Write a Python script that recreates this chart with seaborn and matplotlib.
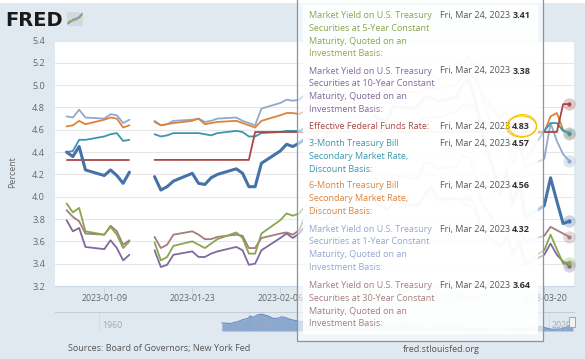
import numpy as np
import pandas as pd
import matplotlib
matplotlib.use("Agg")
import matplotlib.pyplot as plt
import seaborn as sns
from matplotlib.patches import Rectangle, Ellipse

# ---------------- data ----------------
dates = pd.bdate_range("2023-01-03", "2023-03-24")   # business days; holidays are None
N = None
dgs2 = [4.40, 4.36, 4.45, 4.24,
        4.19, 4.24, 4.19, 4.12, 4.22,
        N, 4.18, 4.06, 4.09, 4.14,
        4.21, 4.12, 4.11, 4.17, 4.20,
        4.25, 4.21, 4.09, 4.09, 4.30,
        4.41, 4.47, 4.45, 4.48, 4.52,
        4.52, 4.62, 4.64, 4.65, 4.62,
        N, 4.72, 4.69, 4.69, 4.81,
        4.79, 4.81, 4.89, 4.89, 4.86,
        4.89, 5.01, 5.05, 4.87, 4.60,
        4.03, 4.24, 3.93, 4.14, 3.81,
        3.92, 4.17, 3.96, 3.76, 3.78]
dgs1 = [4.72, 4.71, 4.78, 4.71,
        4.70, 4.74, 4.73, 4.66, 4.69,
        N, 4.68, 4.64, 4.65, 4.68,
        4.69, 4.70, 4.67, 4.68, 4.70,
        4.71, 4.68, 4.66, 4.64, 4.79,
        4.84, 4.87, 4.86, 4.87, 4.92,
        4.95, 5.03, 5.05, 5.02, 5.00,
        N, 5.04, 5.02, 5.00, 5.08,
        5.07, 5.06, 5.11, 5.10, 5.05,
        5.10, 5.21, 5.25, 5.15, 4.90,
        4.42, 4.51, 4.29, 4.49, 4.26,
        4.34, 4.66, 4.50, 4.38, 4.32]
dtb6 = [4.63, 4.64, 4.68, 4.65,
        4.69, 4.71, 4.70, 4.62, 4.64,
        N, 4.67, 4.64, 4.65, 4.66,
        4.68, 4.70, 4.65, 4.66, 4.67,
        4.68, 4.66, 4.64, 4.62, 4.68,
        4.73, 4.75, 4.75, 4.74, 4.77,
        4.80, 4.83, 4.84, 4.84, 4.85,
        N, 4.90, 4.90, 4.90, 4.93,
        4.94, 4.93, 4.97, 4.98, 4.97,
        5.00, 5.09, 5.10, 5.06, 4.94,
        4.70, 4.77, 4.54, 4.67, 4.55,
        4.58, 4.72, 4.75, 4.60, 4.56]
dtb3 = [4.40, 4.41, 4.51, 4.51,
        4.54, 4.56, 4.57, 4.50, 4.51,
        N, 4.56, 4.54, 4.55, 4.57,
        4.57, 4.57, 4.56, 4.55, 4.57,
        4.59, 4.58, 4.54, 4.54, 4.57,
        4.58, 4.59, 4.59, 4.59, 4.62,
        4.62, 4.63, 4.65, 4.65, 4.65,
        N, 4.68, 4.67, 4.66, 4.67,
        4.67, 4.67, 4.71, 4.71, 4.71,
        4.76, 4.82, 4.83, 4.81, 4.69,
        4.57, 4.53, 4.45, 4.42, 4.33,
        4.59, 4.66, 4.66, 4.59, 4.57]
effr = [4.33, 4.33, 4.33, 4.33,
        4.33, 4.33, 4.33, 4.33, 4.33,
        N, 4.33, 4.33, 4.33, 4.33,
        4.33, 4.33, 4.33, 4.33, 4.33,
        4.33, 4.33, 4.33, 4.58, 4.58,
        4.58, 4.58, 4.58, 4.58, 4.58,
        4.58, 4.58, 4.58, 4.58, 4.58,
        N, 4.58, 4.58, 4.58, 4.58,
        4.58, 4.58, 4.58, 4.58, 4.58,
        4.58, 4.58, 4.58, 4.58, 4.58,
        4.58, 4.58, 4.58, 4.58, 4.58,
        4.58, 4.58, 4.58, 4.83, 4.83]
dgs5 = [3.94, 3.86, 3.90, 3.69,
        3.66, 3.73, 3.66, 3.54, 3.60,
        N, 3.59, 3.43, 3.46, 3.56,
        3.60, 3.57, 3.54, 3.58, 3.62,
        3.68, 3.63, 3.49, 3.49, 3.67,
        3.79, 3.85, 3.83, 3.85, 3.92,
        3.91, 3.97, 4.05, 4.06, 4.04,
        N, 4.17, 4.12, 4.05, 4.20,
        4.16, 4.18, 4.30, 4.30, 4.25,
        4.27, 4.37, 4.35, 4.21, 3.96,
        3.68, 3.71, 3.46, 3.62, 3.42,
        3.52, 3.66, 3.53, 3.40, 3.41]
dgs10 = [3.79, 3.69, 3.72, 3.55,
         3.53, 3.61, 3.54, 3.43, 3.48,
         N, 3.52, 3.37, 3.39, 3.48,
         3.51, 3.46, 3.46, 3.49, 3.51,
         3.55, 3.52, 3.39, 3.40, 3.52,
         3.63, 3.67, 3.63, 3.67, 3.74,
         3.72, 3.77, 3.81, 3.86, 3.82,
         N, 3.95, 3.92, 3.88, 3.95,
         3.92, 3.92, 4.01, 4.08, 3.97,
         3.98, 3.97, 3.99, 3.93, 3.70,
         3.55, 3.64, 3.51, 3.57, 3.39,
         3.48, 3.58, 3.48, 3.42, 3.38]
dgs30 = [3.88, 3.82, 3.78, 3.67,
         3.66, 3.74, 3.69, 3.57, 3.61,
         N, 3.64, 3.54, 3.57, 3.66,
         3.69, 3.66, 3.62, 3.62, 3.64,
         3.66, 3.65, 3.54, 3.54, 3.63,
         3.67, 3.68, 3.66, 3.70, 3.83,
         3.79, 3.83, 3.87, 3.92, 3.88,
         N, 3.98, 3.95, 3.89, 3.94,
         3.92, 3.93, 4.02, 4.09, 3.99,
         3.99, 3.94, 3.92, 3.88, 3.70,
         3.69, 3.73, 3.70, 3.72, 3.60,
         3.65, 3.73, 3.70, 3.67, 3.64]

# navigator (2-year yield history)
nav_years = [1976.4, 1977.5, 1978.4, 1979.3, 1979.9, 1980.2, 1980.6, 1981.1, 1981.7,
             1982.1, 1982.6, 1983.2, 1983.9, 1984.3, 1984.8, 1985.5, 1986.4, 1987.5,
             1988.5, 1989.3, 1990.5, 1991.5, 1992.5, 1993.5, 1994.9, 1995.5, 1996.5,
             1997.5, 1998.8, 1999.5, 2000.4, 2001.5, 2002.5, 2003.5, 2004.5, 2005.5,
             2006.5, 2007.5, 2008.5, 2009.5, 2010.5, 2011.5, 2012.5, 2013.5, 2014.5,
             2015.5, 2016.5, 2017.5, 2018.9, 2019.5, 2020.3, 2021.0, 2021.9, 2022.5,
             2022.9, 2023.22]
nav_vals = [6.8, 6.1, 7.8, 10.4, 11.5, 13.9, 12.5, 14.9, 16.0,
            14.9, 13.9, 11.5, 11.5, 13.1, 12.5, 10.4, 8.9, 7.5,
            8.1, 9.3, 8.2, 6.5, 5.0, 4.2, 7.6, 5.9, 5.5,
            6.0, 4.3, 5.7, 6.8, 4.5, 3.0, 1.3, 1.8, 3.8,
            5.2, 4.8, 2.0, 0.9, 0.8, 0.5, 0.27, 0.3, 0.46,
            0.7, 0.85, 1.4, 2.9, 1.8, 0.2, 0.15, 0.7, 3.0,
            4.6, 4.0]

logo_x = [0, 1, 2, 3, 4, 5]
logo_green = [0.25, 0.40, 0.35, 0.60, 0.55, 0.80]
logo_blue = [0.15, 0.30, 0.50, 0.45, 0.68, 0.88]

yticks = [3.2, 3.4, 3.6, 3.8, 4.0, 4.2, 4.4, 4.6, 4.8, 5.0, 5.2, 5.4]
xtick_dates = ["2023-01-09", "2023-01-23", "2023-02-06", "2023-02-20", "2023-03-06", "2023-03-20"]
# the 2023-02-20 label sits fully under the tooltip in the reference
xtick_labels = ["2023-01-09", "2023-01-23", "2023-02-06", "", "2023-03-06", "2023-03-20"]
nav_ticks = [1960, 1980, 2000, 2020]

# (name, values, color, linewidth) drawn in this order
series = [
    ("30Y", dgs30, "#A47D7C", 1.3),
    ("1Y", dgs1, "#92A8CD", 1.3),
    ("6M", dtb6, "#DB843D", 1.3),
    ("3M", dtb3, "#3D96AE", 1.3),
    ("10Y", dgs10, "#80699B", 1.3),
    ("5Y", dgs5, "#89A54E", 1.3),
    ("EFFR", effr, "#AA4643", 1.3),
    ("2Y", dgs2, "#4572A7", 2.2),
]

tooltip_groups = [
    (["Market Yield on U.S. Treasury", "Securities at 5-Year Constant",
      "Maturity, Quoted on an", "Investment Basis:"], "#89A54E", "3.41", 15.7),
    (["Market Yield on U.S. Treasury", "Securities at 10-Year Constant",
      "Maturity, Quoted on an", "Investment Basis:"], "#80699B", "3.38", 71.0),
    (["Effective Federal Funds Rate:"], "#AA4643", "4.83", 126.7),
    (["3-Month Treasury Bill", "Secondary Market Rate,", "Discount Basis:"],
     "#3D96AE", "4.57", 144.0),
    (["6-Month Treasury Bill", "Secondary Market Rate,", "Discount Basis:"],
     "#DB843D", "4.56", 186.0),
    (["Market Yield on U.S. Treasury", "Securities at 1-Year Constant",
      "Maturity, Quoted on an", "Investment Basis:"], "#92A8CD", "4.32", 229.3),
    (["Market Yield on U.S. Treasury", "Securities at 30-Year Constant",
      "Maturity, Quoted on an", "Investment Basis:"], "#A47D7C", "3.64", 285.7),
]

# ---------------- figure ----------------
sns.set_theme(style="white")
plt.rcParams["font.family"] = ["Open Sans", "DejaVu Sans"]

W, H = 585, 359
fig = plt.figure(figsize=(W / 100, H / 100), dpi=100)
fig.patch.set_facecolor("#e1e9f0")


def fx(x):
    return x / W


def fy(y):
    return 1 - y / H


# white strip on top
fig.add_artist(Rectangle((0, fy(3.3)), 1, 3.3 / H, transform=fig.transFigure,
                         facecolor="white", edgecolor="none", zorder=0.5))

# main axes
ax = fig.add_axes([fx(55), fy(286), (574 - 55) / W, (286 - 40.5) / H])
ax.set_facecolor("white")

for name, vals, color, lw in series:
    df = pd.DataFrame({"date": dates, "value": vals})
    df["seg"] = df["value"].isna().cumsum()
    df = df.dropna()
    sns.lineplot(data=df, x="date", y="value", units="seg", estimator=None,
                 color=color, linewidth=lw, ax=ax, legend=False)

# end markers with halo
for name, vals, color, lw in series:
    end = pd.DataFrame({"date": [dates[-1]], "value": [vals[-1]]})
    sns.scatterplot(data=end, x="date", y="value", s=80, color=color, alpha=0.28,
                    linewidth=0, ax=ax, legend=False, clip_on=False, zorder=5)
    sns.scatterplot(data=end, x="date", y="value", s=9, color=color,
                    linewidth=0, ax=ax, legend=False, clip_on=False, zorder=6)

jan9 = pd.Timestamp("2023-01-09")
ax.set_xlim(jan9 - pd.Timedelta(days=7.84), pd.Timestamp("2023-03-24") + pd.Timedelta(days=0.73))
ax.set_ylim(3.2, 5.4)
ax.set_yticks(yticks)
ax.set_yticklabels([f"{v:.1f}" for v in yticks])
ax.set_xticks([pd.Timestamp(d) for d in xtick_dates])
ax.set_xticklabels(xtick_labels)
ax.set_xlabel("")
ax.set_ylabel("")
ax.yaxis.grid(True, color="#e6e6e6", linewidth=0.75)
ax.xaxis.grid(False)
ax.set_axisbelow(True)
for s in ["top", "left", "right"]:
    ax.spines[s].set_visible(False)
ax.spines["bottom"].set_color("#ccd6eb")
ax.spines["bottom"].set_linewidth(0.75)
ax.tick_params(axis="y", length=0, pad=7.2, labelsize=6.6, labelcolor="#666666")
ax.tick_params(axis="x", length=5, width=0.75, color="#ccd6eb", pad=0.5,
               labelsize=6.3, labelcolor="#666666", bottom=True)

fig.text(fx(13), fy(172), "Percent", rotation=90, ha="center", va="center",
         fontsize=6.3, color="#666666")

# navigator
nav = fig.add_axes([fx(55), fy(331), (574 - 55) / W, (331 - 312.3) / H])
nav.set_facecolor("none")
nav_df = pd.DataFrame({"year": nav_years, "value": nav_vals})
nav.fill_between(nav_df["year"], nav_df["value"], -1.7, color="#7f9dca", alpha=0.85,
                 linewidth=0)
sns.lineplot(data=nav_df, x="year", y="value", color="#6a8ac0", linewidth=0.8,
             ax=nav, legend=False)
nav.set_xlim(1954.16, 2023.36)
nav.set_ylim(-1.7, 17.8)
nav.set_xticks(nav_ticks)
nav.xaxis.grid(True, color="#d3dbe3", linewidth=0.75)
nav.yaxis.grid(False)
nav.tick_params(length=0, labelbottom=False, labelleft=False)
nav.set_xlabel("")
nav.set_ylabel("")
for s in ["bottom", "left", "right"]:
    nav.spines[s].set_visible(False)
nav.spines["top"].set_color("#c4ced8")
nav.spines["top"].set_linewidth(0.75)
for yr in nav_ticks:
    nav.text(yr + 0.39, 0.32, str(yr), transform=nav.get_xaxis_transform(),
             ha="left", va="center", fontsize=6.3, color="#a0a8b0")

# navigator handle
fig.add_artist(Rectangle((fx(569), fy(327)), 6 / W, 10 / H, transform=fig.transFigure,
                         facecolor="#f2f2f2", edgecolor="#999999", linewidth=0.6, zorder=2))

# sources
fig.text(fx(68), fy(349), "Sources: Board of Governors; New York Fed", ha="left",
         va="center", fontsize=6.5, color="#555555")
fig.text(fx(441), fy(349), "fred.stlouisfed.org", ha="center", va="center",
         fontsize=6.5, color="#555555")

# FRED logo
fig.text(fx(5), fy(26), "FRED", ha="left", va="baseline", fontsize=14,
         fontweight="bold", family="DejaVu Sans", color="#1a1a1a")
icon = fig.add_axes([fx(67), fy(26), 16 / W, 14 / H])
icon.set_facecolor("#d3d9df")
sns.lineplot(x=logo_x, y=logo_blue, color="#6f8fbf", linewidth=0.9, ax=icon)
sns.lineplot(x=logo_x, y=logo_green, color="#8db05a", linewidth=0.9, ax=icon)
icon.set_xlim(-0.3, 5.3)
icon.set_ylim(0, 1)
icon.set_xticks([])
icon.set_yticks([])
for s in icon.spines.values():
    s.set_visible(False)

# tooltip
fig.add_artist(Rectangle((fx(297), fy(341)), (543 - 297) / W, (341 + 3) / H,
                         transform=fig.transFigure, facecolor=(1, 1, 1, 0.6),
                         edgecolor="#7f96ae", linewidth=0.9, zorder=3))
fig.add_artist(Rectangle((fx(302.5), fy(334)), (537.5 - 302.5) / W, (334 - 5) / H,
                         transform=fig.transFigure, facecolor=(1, 1, 1, 0.9),
                         edgecolor="none", zorder=3.1))

line_gap = 12.7
for lines, color, value, y0 in tooltip_groups:
    for i, t in enumerate(lines):
        fig.text(fx(309), fy(y0 + i * line_gap), t, ha="left", va="center",
                 fontsize=6.5, color=color, zorder=4)
    fig.text(fx(510), fy(y0), "Fri, Mar 24, 2023", ha="right", va="center",
             fontsize=6.5, color="#555555", zorder=4)
    fig.text(fx(512.3), fy(y0), value, ha="left", va="center", fontsize=6.5,
             fontweight="bold", color="#333333", zorder=4)

# hand-drawn yellow circle around 4.83
fig.add_artist(Ellipse((fx(521.5), fy(126.5)), 30 / W, 21 / H, transform=fig.transFigure,
                       fill=False, edgecolor="#f5c400", linewidth=0.9, zorder=5))
fig.add_artist(Ellipse((fx(522.5), fy(125.5)), 28 / W, 22 / H, transform=fig.transFigure,
                       fill=False, edgecolor="#f5c400", linewidth=0.7, zorder=5))

fig.savefig("out.png", dpi=100, facecolor=fig.get_facecolor())
